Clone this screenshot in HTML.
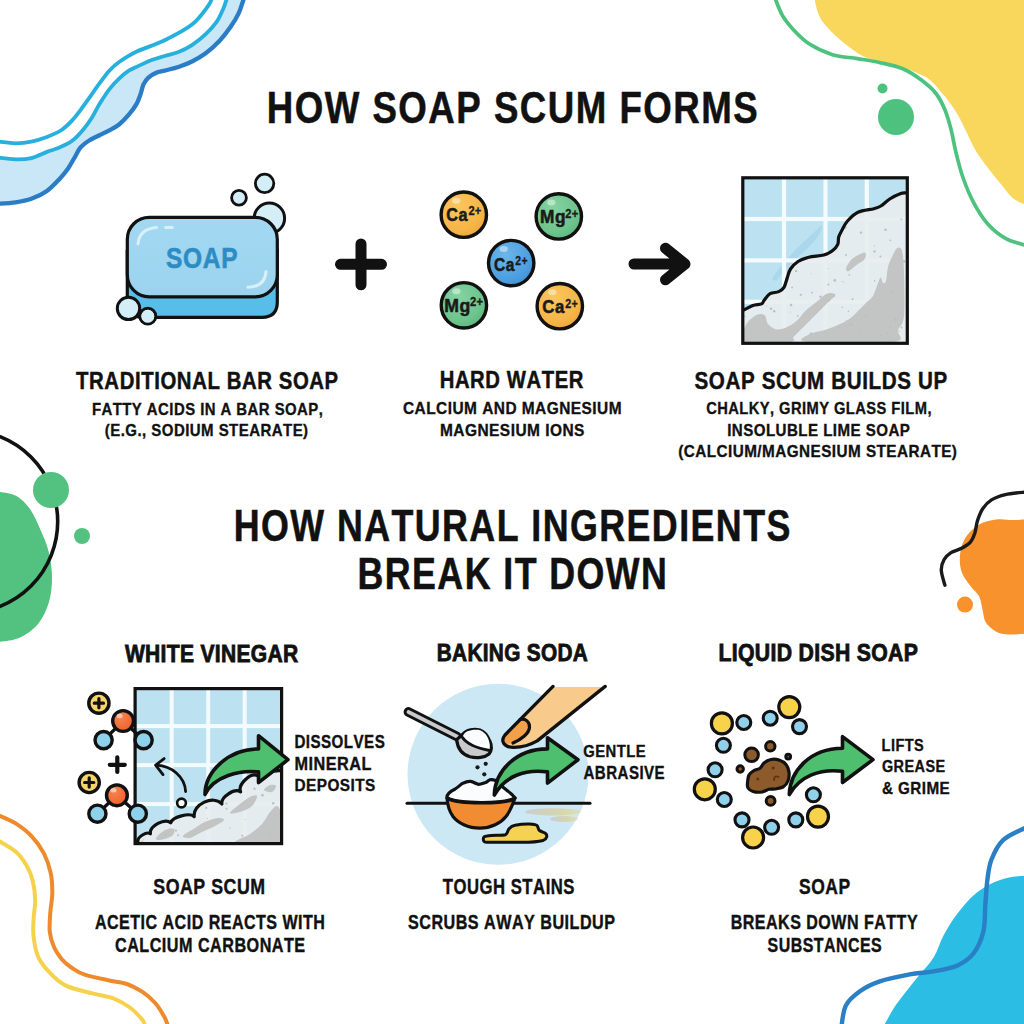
<!DOCTYPE html>
<html><head><meta charset="utf-8"><style>
html,body{margin:0;padding:0;background:#fff;width:1024px;height:1024px;overflow:hidden}
svg{display:block}
text{font-family:"Liberation Sans",sans-serif;font-weight:bold;font-kerning:none}
</style></head><body>
<svg width="1024" height="1024" viewBox="0 0 1024 1024">
<rect width="1024" height="1024" fill="#fff"/>
<path d="M-2.0,157.7 C0.9,158.0 10.1,159.2 15.6,159.3 C21.1,159.4 26.1,159.3 31.3,158.1 C36.5,156.9 42.1,153.7 46.9,151.9 C51.7,150.1 55.8,149.0 60.0,147.2 C64.2,145.3 68.4,143.7 72.2,140.8 C76.0,137.9 79.7,133.8 82.9,130.0 C86.1,126.2 88.7,122.5 91.5,118.2 C94.3,113.9 96.5,108.8 99.5,104.0 C102.5,99.2 106.0,93.5 109.3,89.3 C112.6,85.1 115.8,81.7 119.1,78.6 C122.3,75.5 125.6,72.8 128.8,70.7 C132.1,68.6 134.9,67.7 138.6,65.9 C142.3,64.2 146.7,61.9 151.0,60.2 C155.3,58.6 160.1,57.4 164.7,56.0 C169.3,54.6 173.8,53.8 178.4,52.0 C183.0,50.2 187.4,48.1 192.0,45.1 C196.6,42.1 201.6,38.1 205.7,34.2 C209.8,30.3 213.6,26.2 216.6,21.9 C219.6,17.6 221.8,12.2 223.5,8.2 C225.2,4.2 226.4,-0.3 227.0,-2.0 L244,-2 C243.1,0.6 240.8,8.8 238.5,13.7 C236.2,18.6 233.5,22.8 230.3,27.3 C227.1,31.9 223.5,36.7 219.4,41.0 C215.3,45.3 210.3,49.9 205.7,53.3 C201.1,56.7 196.6,59.2 192.0,61.5 C187.4,63.8 183.0,65.5 178.4,67.0 C173.8,68.5 168.4,69.6 164.7,70.6 C161.0,71.5 158.9,71.5 156.2,72.7 C153.5,73.9 150.5,75.6 148.4,77.6 C146.3,79.5 144.8,81.6 143.5,84.4 C142.2,87.2 141.7,91.0 140.5,94.2 C139.3,97.5 138.5,100.5 136.6,103.9 C134.7,107.3 131.7,111.3 128.8,114.7 C125.9,118.1 122.3,121.9 119.1,124.5 C115.8,127.1 112.6,128.5 109.3,130.3 C106.0,132.1 102.8,133.6 99.5,135.2 C96.2,136.8 92.9,138.1 89.8,140.1 C86.7,142.1 83.4,144.2 80.8,147.2 C78.2,150.2 76.4,154.4 74.3,158.0 C72.2,161.6 70.3,165.3 67.9,168.7 C65.5,172.1 63.5,174.7 60.0,178.4 C56.5,182.1 51.7,187.5 46.9,190.9 C42.1,194.3 36.5,196.9 31.3,198.8 C26.1,200.7 21.1,201.5 15.6,202.3 C10.1,203.1 0.9,203.6 -2.0,203.8 Z" fill="#c9e7f6"/>
<path d="M-2.0,141.6 C0.9,141.9 10.1,143.3 15.6,143.3 C21.1,143.3 26.1,142.8 31.3,141.7 C36.5,140.6 41.9,138.9 46.9,137.0 C51.9,135.1 57.3,132.8 61.5,130.0 C65.7,127.2 69.0,123.8 72.2,120.4 C75.4,117.0 77.9,113.6 80.8,109.7 C83.7,105.8 86.7,101.5 89.8,97.1 C92.9,92.7 96.2,87.8 99.5,83.4 C102.8,79.0 106.0,74.3 109.3,70.7 C112.6,67.1 114.4,65.2 119.1,62.0 C123.8,58.8 129.7,54.9 137.3,51.3 C144.9,47.7 155.6,44.8 164.7,40.3 C173.8,35.8 184.7,30.4 192.0,24.6 C199.3,18.8 205.1,9.9 208.4,5.5 C211.7,1.1 211.4,-0.8 212.0,-2.0" fill="none" stroke="#27b0de" stroke-width="3.8"/>
<path d="M-2.0,157.7 C0.9,158.0 10.1,159.2 15.6,159.3 C21.1,159.4 26.1,159.3 31.3,158.1 C36.5,156.9 42.1,153.7 46.9,151.9 C51.7,150.1 55.8,149.0 60.0,147.2 C64.2,145.3 68.4,143.7 72.2,140.8 C76.0,137.9 79.7,133.8 82.9,130.0 C86.1,126.2 88.7,122.5 91.5,118.2 C94.3,113.9 96.5,108.8 99.5,104.0 C102.5,99.2 106.0,93.5 109.3,89.3 C112.6,85.1 115.8,81.7 119.1,78.6 C122.3,75.5 125.6,72.8 128.8,70.7 C132.1,68.6 134.9,67.7 138.6,65.9 C142.3,64.2 146.7,61.9 151.0,60.2 C155.3,58.6 160.1,57.4 164.7,56.0 C169.3,54.6 173.8,53.8 178.4,52.0 C183.0,50.2 187.4,48.1 192.0,45.1 C196.6,42.1 201.6,38.1 205.7,34.2 C209.8,30.3 213.6,26.2 216.6,21.9 C219.6,17.6 221.8,12.2 223.5,8.2 C225.2,4.2 226.4,-0.3 227.0,-2.0" fill="none" stroke="#27b0de" stroke-width="3.8"/>
<path d="M-2.0,203.8 C0.9,203.6 10.1,203.1 15.6,202.3 C21.1,201.5 26.1,200.7 31.3,198.8 C36.5,196.9 42.1,194.3 46.9,190.9 C51.7,187.5 56.5,182.1 60.0,178.4 C63.5,174.7 65.5,172.1 67.9,168.7 C70.3,165.3 72.2,161.6 74.3,158.0 C76.4,154.4 78.2,150.2 80.8,147.2 C83.4,144.2 86.7,142.1 89.8,140.1 C92.9,138.1 96.2,136.8 99.5,135.2 C102.8,133.6 106.0,132.1 109.3,130.3 C112.6,128.5 115.8,127.1 119.1,124.5 C122.3,121.9 125.9,118.1 128.8,114.7 C131.7,111.3 134.7,107.3 136.6,103.9 C138.5,100.5 139.3,97.5 140.5,94.2 C141.7,91.0 142.2,87.2 143.5,84.4 C144.8,81.6 146.3,79.5 148.4,77.6 C150.5,75.6 153.5,73.9 156.2,72.7 C158.9,71.5 161.0,71.5 164.7,70.6 C168.4,69.6 173.8,68.5 178.4,67.0 C183.0,65.5 187.4,63.8 192.0,61.5 C196.6,59.2 201.1,56.7 205.7,53.3 C210.3,49.9 215.3,45.3 219.4,41.0 C223.5,36.7 227.1,31.9 230.3,27.3 C233.5,22.8 236.2,18.6 238.5,13.7 C240.8,8.8 243.1,0.6 244.0,-2.0" fill="none" stroke="#2a7cc6" stroke-width="4.3"/>
<path d="M814.5,-2.0 C814.9,-0.1 815.7,5.7 816.9,9.4 C818.1,13.1 819.0,16.4 821.6,20.3 C824.2,24.2 828.6,28.9 832.5,32.8 C836.4,36.7 840.8,40.4 845.0,43.8 C849.2,47.1 853.9,50.8 857.5,53.1 C861.1,55.4 863.2,56.4 866.9,57.8 C870.5,59.2 873.4,59.9 879.4,61.5 C885.4,63.1 896.4,65.5 902.8,67.5 C909.2,69.5 913.5,71.4 918.0,73.5 C922.5,75.6 925.3,76.0 929.9,80.0 C934.5,84.0 941.0,91.7 945.7,97.6 C950.4,103.5 954.5,109.3 958.0,115.2 C961.5,121.1 963.9,126.9 966.8,132.8 C969.7,138.7 972.1,144.5 975.6,150.4 C979.1,156.3 983.6,162.2 988.0,168.0 C992.4,173.8 997.9,180.5 1002.0,185.5 C1006.1,190.5 1008.6,194.7 1012.6,197.9 C1016.6,201.2 1023.8,203.8 1026.0,205.0 L1026,-2 Z" fill="#f9d75c"/>
<path d="M775.0,-2.0 C776.2,0.9 779.4,10.3 782.5,15.6 C785.6,20.9 789.0,25.0 793.4,29.7 C797.8,34.4 802.5,39.6 809.0,43.8 C815.5,47.9 824.4,52.2 832.5,54.7 C840.6,57.2 849.7,57.3 857.5,58.6 C865.3,59.9 871.9,60.8 879.4,62.5 C886.9,64.2 895.7,65.8 902.8,68.8 C909.9,71.8 916.5,76.4 922.0,80.5 C927.5,84.6 932.2,88.6 936.0,93.5 C939.8,98.4 942.5,104.0 945.0,110.0 C947.5,116.0 949.1,122.0 951.0,129.3 C952.9,136.6 954.2,145.7 956.3,153.9 C958.3,162.1 960.4,170.3 963.3,178.5 C966.2,186.7 969.8,195.5 973.9,203.1 C978.0,210.7 982.7,218.3 988.0,224.2 C993.3,230.1 999.2,234.8 1005.5,238.3 C1011.8,241.9 1022.6,244.3 1026.0,245.5" fill="none" stroke="#4cc27e" stroke-width="3.7"/>
<circle cx="882.5" cy="88.5" r="5" fill="#4cc27e"/>
<circle cx="896" cy="117" r="18" fill="#4cc27e"/>
<path d="M-2.0,491.6 C1.0,492.3 10.7,492.8 16.0,495.7 C21.3,498.6 25.8,503.1 30.0,509.0 C34.2,514.9 37.8,523.7 41.0,531.0 C44.2,538.3 47.2,545.2 49.0,553.0 C50.8,560.8 52.0,569.6 52.0,577.8 C52.0,586.0 51.3,594.3 49.0,602.0 C46.7,609.7 43.0,618.0 38.0,624.0 C33.0,630.0 25.7,635.0 19.0,638.0 C12.3,641.0 1.5,641.3 -2.0,642.0 Z" fill="#53c17f"/>
<circle cx="-33.5" cy="521.5" r="91.2" fill="none" stroke="#111" stroke-width="3.6"/>
<circle cx="51" cy="490" r="18" fill="#53c17f"/>
<circle cx="82" cy="536" r="8" fill="#53c17f"/>
<path d="M1026.0,519.3 C1023.8,519.4 1017.2,520.0 1012.6,520.0 C1008.0,520.0 1003.5,518.8 998.5,519.3 C993.5,519.8 987.4,520.8 982.7,522.8 C978.0,524.8 973.8,528.1 970.4,531.6 C967.0,535.1 964.2,539.2 962.4,543.9 C960.6,548.6 959.8,554.7 959.8,559.7 C959.8,564.7 960.6,569.4 962.4,573.8 C964.2,578.2 967.6,582.2 970.4,586.0 C973.2,589.8 977.2,592.5 979.2,596.6 C981.2,600.7 981.5,606.3 982.7,610.7 C983.9,615.1 983.6,619.3 986.2,623.0 C988.8,626.7 994.1,630.8 998.5,632.7 C1002.9,634.6 1008.0,634.4 1012.6,634.5 C1017.2,634.6 1023.8,633.8 1026.0,633.6 Z" fill="#f7922d"/>
<path d="M1026.0,492.0 C1022.6,492.4 1011.2,493.3 1005.5,494.6 C999.8,495.9 995.3,497.5 991.5,499.9 C987.7,502.2 985.1,505.2 982.7,508.7 C980.4,512.2 978.7,516.9 977.4,521.0 C976.1,525.1 976.0,529.8 974.8,533.3 C973.6,536.8 972.6,539.6 970.4,542.1 C968.2,544.6 964.8,546.5 961.6,548.3 C958.4,550.1 953.9,550.8 951.0,552.7 C948.1,554.6 945.6,556.8 944.0,559.7 C942.4,562.6 941.1,566.0 941.3,570.3 C941.4,574.5 944.3,582.7 944.9,585.2" fill="none" stroke="#1a1a1a" stroke-width="3.4" stroke-linecap="round"/>
<circle cx="965" cy="604.6" r="8" fill="#f7922d"/>
<path d="M-2.0,815.0 C0.9,816.4 10.1,819.9 15.6,823.4 C21.1,826.9 26.6,830.9 31.3,835.9 C36.0,840.9 40.5,846.9 43.8,853.1 C47.0,859.4 49.4,866.6 50.8,873.4 C52.2,880.2 52.4,887.2 52.3,893.8 C52.2,900.3 50.7,906.1 50.3,912.5 C49.9,918.9 49.2,926.2 49.8,932.0 C50.4,937.8 52.0,942.4 54.0,947.0 C56.0,951.6 59.0,956.0 62.0,959.5 C65.0,963.0 68.2,965.5 72.0,968.0 C75.8,970.5 78.7,972.7 84.7,974.7 C90.7,976.7 101.1,978.7 108.1,980.2 C115.1,981.8 121.2,982.0 126.9,984.0 C132.6,986.0 137.8,988.8 142.5,991.9 C147.2,995.0 151.3,998.6 155.0,1002.8 C158.7,1007.0 162.2,1013.0 164.4,1016.9 C166.6,1020.8 167.4,1024.5 168.0,1026.0" fill="none" stroke="#ef8a2c" stroke-width="4"/>
<path d="M-2.0,840.4 C0.9,842.3 10.8,847.4 15.6,851.6 C20.4,855.8 23.7,860.7 26.6,865.6 C29.5,870.5 31.4,875.5 32.8,881.2 C34.2,887.0 35.1,893.8 35.2,900.0 C35.3,906.2 33.9,912.8 33.6,918.8 C33.3,924.7 32.8,929.4 33.5,935.6 C34.2,941.8 35.3,949.9 37.8,955.9 C40.3,961.9 44.1,966.6 48.8,971.6 C53.4,976.6 58.6,982.0 65.9,985.6 C73.2,989.2 84.7,991.3 92.5,993.4 C100.3,995.5 106.5,995.8 112.8,998.1 C119.0,1000.5 125.0,1003.9 130.0,1007.5 C134.9,1011.1 140.0,1016.9 142.5,1020.0 C145.0,1023.1 144.6,1025.0 145.0,1026.0" fill="none" stroke="#f6d24c" stroke-width="4"/>
<path d="M883.8,1026.0 C885.8,1022.5 890.4,1013.1 895.7,1005.3 C901.0,997.5 909.4,987.4 915.7,979.4 C922.0,971.4 929.0,964.8 933.6,957.5 C938.2,950.2 939.5,942.8 943.5,935.5 C947.5,928.2 952.2,920.6 957.5,913.6 C962.8,906.6 969.1,899.0 975.4,893.7 C981.7,888.4 989.0,884.6 995.3,881.8 C1001.6,879.0 1008.2,877.8 1013.3,876.8 C1018.4,875.8 1023.9,876.0 1026.0,875.8 L1026,1026 Z" fill="#2bbde3"/>
<path d="M841.5,1026.0 C842.2,1022.5 842.9,1011.1 846.0,1005.3 C849.1,999.5 854.3,995.3 859.9,991.3 C865.5,987.3 871.5,984.2 879.8,981.4 C888.1,978.6 900.7,976.1 909.7,974.4 C918.7,972.7 925.6,972.9 933.6,971.4 C941.6,969.9 950.9,968.4 957.5,965.4 C964.1,962.4 969.1,959.1 973.4,953.5 C977.7,947.9 981.4,939.8 983.4,931.5 C985.4,923.2 984.7,912.3 985.4,903.7 C986.1,895.1 986.4,887.1 987.4,879.8 C988.4,872.5 988.8,866.4 991.4,859.8 C994.0,853.1 997.5,845.3 1003.3,839.9 C1009.1,834.5 1022.2,829.6 1026.0,827.5" fill="none" stroke="#2a7fc5" stroke-width="4.4"/>
<defs>
<radialGradient id="gOr" cx="0.38" cy="0.32" r="0.75"><stop offset="0" stop-color="#fbc65e"/><stop offset="0.7" stop-color="#f6b547"/><stop offset="1" stop-color="#eea43a"/></radialGradient>
<radialGradient id="gGr" cx="0.38" cy="0.32" r="0.75"><stop offset="0" stop-color="#86d3a2"/><stop offset="0.7" stop-color="#6dc48c"/><stop offset="1" stop-color="#5bb67c"/></radialGradient>
<radialGradient id="gBl" cx="0.38" cy="0.32" r="0.75"><stop offset="0" stop-color="#6cb6ea"/><stop offset="0.7" stop-color="#4d9fe0"/><stop offset="1" stop-color="#3f8fd4"/></radialGradient>
<radialGradient id="gRd" cx="0.38" cy="0.32" r="0.75"><stop offset="0" stop-color="#f8844f"/><stop offset="1" stop-color="#ec5f2c"/></radialGradient>
<linearGradient id="gSoapTop" x1="0" y1="0" x2="0" y2="1"><stop offset="0" stop-color="#a3d8f1"/><stop offset="1" stop-color="#9bd3ee"/></linearGradient>
<linearGradient id="gSmudge" x1="0" y1="0" x2="1" y2="0"><stop offset="0" stop-color="#c8c8c4"/><stop offset="0.6" stop-color="#d8cfa0"/><stop offset="1" stop-color="#f0d470" stop-opacity="0.6"/></linearGradient>
</defs>
<circle cx="269.4" cy="218.3" r="15.2" fill="#d4eef8" stroke="#111" stroke-width="3"/>
<path d="M127.3,250 L127.3,302 Q127.3,317.3 143,317.3 L262,317.3 Q277.3,317.3 277.3,302 L277.3,250 Z" fill="#58bde8" stroke="#111" stroke-width="3.2" stroke-linejoin="round"/>
<rect x="127.3" y="217.3" width="150" height="79.5" rx="22" fill="url(#gSoapTop)" stroke="#111" stroke-width="3.2"/>
<path d="M138,244 Q139,229 156.5,227.4" fill="none" stroke="#e2f4fb" stroke-width="3" stroke-linecap="round" opacity="0.85"/>
<path d="M165.6,227.4 L172.3,227.4" fill="none" stroke="#e2f4fb" stroke-width="3" stroke-linecap="round" opacity="0.85"/>
<path d="M247.8,287.2 Q265,287 266,271.4" fill="none" stroke="#e2f4fb" stroke-width="3" stroke-linecap="round" opacity="0.85"/>
<text transform="translate(166.04 268.10) scale(0.8211 1)" font-size="29.80" letter-spacing="0.89" fill="#2e8cc4" stroke="#2e8cc4" stroke-width="0.60">SOAP</text>
<circle cx="147.8" cy="316.2" r="7.9" fill="#d4eef8" stroke="#111" stroke-width="3"/>
<circle cx="128.5" cy="308.4" r="11.2" fill="#d4eef8" stroke="#111" stroke-width="3"/>
<circle cx="147.8" cy="316.2" r="6.4" fill="#d4eef8"/>
<circle cx="239" cy="197.7" r="7.4" fill="#d4eef8" stroke="#111" stroke-width="2.8"/>
<circle cx="264.6" cy="183.4" r="9.2" fill="#d4eef8" stroke="#111" stroke-width="2.8"/>
<path d="M340.5,264.3 H381.5 M361,244 V284.8" stroke="#111" stroke-width="11" stroke-linecap="round"/>
<circle cx="463.8" cy="214.7" r="22.7" fill="url(#gOr)" stroke="#111" stroke-width="3.4"/>
<ellipse cx="456.3" cy="200.7" rx="4.2" ry="3" fill="#fff" opacity="0.45"/>
<text transform="translate(446.28 221.42) scale(0.8737 1)" font-size="18.52" letter-spacing="0.56" fill="#1a1a1a" stroke="#1a1a1a" stroke-width="0.56">Ca</text>
<text transform="translate(468.38 215.32) scale(0.9203 1)" font-size="11.98" letter-spacing="0.36" fill="#1a1a1a" stroke="#1a1a1a" stroke-width="0.36">2+</text>
<circle cx="558.8" cy="216.4" r="22.7" fill="url(#gGr)" stroke="#111" stroke-width="3.4"/>
<ellipse cx="551.3" cy="202.4" rx="4.2" ry="3" fill="#fff" opacity="0.45"/>
<text transform="translate(540.10 223.02) scale(0.9338 1)" font-size="18.52" letter-spacing="0.56" fill="#1a1a1a" stroke="#1a1a1a" stroke-width="0.56">Mg</text>
<text transform="translate(565.28 217.60) scale(0.8487 1)" font-size="13.09" letter-spacing="0.39" fill="#1a1a1a" stroke="#1a1a1a" stroke-width="0.39">2+</text>
<circle cx="511.2" cy="263.1" r="22.7" fill="url(#gBl)" stroke="#111" stroke-width="3.4"/>
<ellipse cx="503.7" cy="249.10000000000002" rx="4.2" ry="3" fill="#fff" opacity="0.45"/>
<text transform="translate(493.99 270.72) scale(0.8406 1)" font-size="18.52" letter-spacing="0.56" fill="#1a1a1a" stroke="#1a1a1a" stroke-width="0.56">Ca</text>
<text transform="translate(515.30 264.52) scale(0.8583 1)" font-size="12.12" letter-spacing="0.36" fill="#1a1a1a" stroke="#1a1a1a" stroke-width="0.36">2+</text>
<circle cx="463.9" cy="305.3" r="22.7" fill="url(#gGr)" stroke="#111" stroke-width="3.4"/>
<ellipse cx="456.4" cy="291.3" rx="4.2" ry="3" fill="#fff" opacity="0.45"/>
<text transform="translate(444.28 312.21) scale(0.9223 1)" font-size="19.15" letter-spacing="0.57" fill="#1a1a1a" stroke="#1a1a1a" stroke-width="0.57">Mg</text>
<text transform="translate(469.98 306.05) scale(0.8533 1)" font-size="13.02" letter-spacing="0.39" fill="#1a1a1a" stroke="#1a1a1a" stroke-width="0.39">2+</text>
<circle cx="559.8" cy="306.2" r="22.7" fill="url(#gOr)" stroke="#111" stroke-width="3.4"/>
<ellipse cx="552.3" cy="292.2" rx="4.2" ry="3" fill="#fff" opacity="0.45"/>
<text transform="translate(542.36 313.02) scale(0.9069 1)" font-size="18.52" letter-spacing="0.56" fill="#1a1a1a" stroke="#1a1a1a" stroke-width="0.56">Ca</text>
<text transform="translate(565.29 307.60) scale(0.8148 1)" font-size="13.09" letter-spacing="0.39" fill="#1a1a1a" stroke="#1a1a1a" stroke-width="0.39">2+</text>
<path d="M634,264 H684 M665.5,248.3 L685,264 L665.5,279.7" fill="none" stroke="#111" stroke-width="11" stroke-linecap="round" stroke-linejoin="round"/>
<clipPath id="clip1"><rect x="742.8" y="177.8" width="164.5" height="165.5"/></clipPath>
<clipPath id="clip1s"><path d="M740.0,311.0 C740.7,310.8 742.1,310.7 744.3,309.8 C746.4,308.9 750.0,306.5 752.9,305.5 C755.8,304.5 759.6,304.8 761.5,303.9 C763.4,303.0 762.8,301.9 764.2,300.2 C765.6,298.5 767.7,295.1 770.1,293.7 C772.5,292.3 776.4,292.7 778.7,291.6 C781.0,290.5 782.6,289.6 784.0,287.3 C785.4,285.0 786.2,280.7 787.3,277.6 C788.4,274.6 788.7,271.7 790.5,269.0 C792.3,266.3 795.0,263.5 798.0,261.5 C801.0,259.5 804.5,258.3 808.8,257.2 C813.1,256.1 819.9,256.1 823.8,255.0 C827.7,253.9 830.1,252.5 832.4,250.7 C834.7,248.9 836.8,246.6 837.8,244.3 C838.8,242.0 838.0,239.4 838.7,237.0 C839.4,234.6 840.7,232.5 842.2,229.8 C843.7,227.1 844.9,223.9 847.5,221.0 C850.1,218.1 853.6,214.2 858.0,212.2 C862.4,210.1 870.1,209.7 873.9,208.7 C877.7,207.7 878.3,207.6 880.9,206.0 C883.5,204.4 886.5,201.1 889.7,199.0 C892.9,196.9 897.4,194.7 900.2,193.7 C903.0,192.7 904.4,193.1 906.4,192.9 C908.4,192.7 911.1,192.6 912.0,192.5 L912.3,348.3 L737.8,348.3 Z"/></clipPath>
<rect x="742.8" y="177.8" width="164.5" height="165.5" fill="#bce1f0"/>
<g clip-path="url(#clip1)">
<path d="M772,279 C782,262 800,245 822,225 C822,232 816,240 808,248 C796,258 786,268 776,281 Z" fill="#a6d5ec" opacity="0.8"/>
<rect x="781.9" y="177.8" width="4.2" height="165.5" fill="#f3fbfe"/>
<rect x="823.4" y="177.8" width="4.2" height="165.5" fill="#f3fbfe"/>
<rect x="864.7" y="177.8" width="4.2" height="165.5" fill="#f3fbfe"/>
<rect x="742.8" y="216.9" width="164.5" height="4.2" fill="#f3fbfe"/>
<rect x="742.8" y="258.3" width="164.5" height="4.2" fill="#f3fbfe"/>
<rect x="742.8" y="299.7" width="164.5" height="4.2" fill="#f3fbfe"/>
<path d="M740.0,311.0 C740.7,310.8 742.1,310.7 744.3,309.8 C746.4,308.9 750.0,306.5 752.9,305.5 C755.8,304.5 759.6,304.8 761.5,303.9 C763.4,303.0 762.8,301.9 764.2,300.2 C765.6,298.5 767.7,295.1 770.1,293.7 C772.5,292.3 776.4,292.7 778.7,291.6 C781.0,290.5 782.6,289.6 784.0,287.3 C785.4,285.0 786.2,280.7 787.3,277.6 C788.4,274.6 788.7,271.7 790.5,269.0 C792.3,266.3 795.0,263.5 798.0,261.5 C801.0,259.5 804.5,258.3 808.8,257.2 C813.1,256.1 819.9,256.1 823.8,255.0 C827.7,253.9 830.1,252.5 832.4,250.7 C834.7,248.9 836.8,246.6 837.8,244.3 C838.8,242.0 838.0,239.4 838.7,237.0 C839.4,234.6 840.7,232.5 842.2,229.8 C843.7,227.1 844.9,223.9 847.5,221.0 C850.1,218.1 853.6,214.2 858.0,212.2 C862.4,210.1 870.1,209.7 873.9,208.7 C877.7,207.7 878.3,207.6 880.9,206.0 C883.5,204.4 886.5,201.1 889.7,199.0 C892.9,196.9 897.4,194.7 900.2,193.7 C903.0,192.7 904.4,193.1 906.4,192.9 C908.4,192.7 911.1,192.6 912.0,192.5 L912.3,348.3 L737.8,348.3 Z" fill="#e8edef" opacity="0.92"/>
<g clip-path="url(#clip1s)">
<path d="M897.2,248.0 C898.8,247.1 900.9,246.7 902.0,250.7 C903.1,254.7 903.7,261.1 904.0,272.0 C904.3,282.9 905.0,306.3 904.0,316.0 C903.0,325.7 899.8,325.7 898.0,330.0 C896.2,334.3 908.0,340.0 893.0,342.0 C878.0,344.0 822.1,343.2 808.0,342.0 C793.9,340.8 805.5,336.6 808.6,334.5 C811.8,332.4 821.2,331.2 826.9,329.2 C832.6,327.2 838.9,324.7 843.0,322.7 C847.1,320.7 848.7,319.6 851.6,317.3 C854.5,315.0 857.7,311.3 860.2,308.8 C862.7,306.3 864.5,304.5 866.6,302.3 C868.7,300.1 871.2,298.8 873.0,295.9 C874.8,293.0 876.0,288.2 877.3,285.1 C878.6,282.1 879.6,278.0 880.6,277.6 C881.6,277.2 882.1,282.5 883.0,283.0 C883.9,283.5 885.2,283.5 886.0,280.8 C886.8,278.1 886.9,271.0 888.0,266.9 C889.1,262.8 890.9,259.2 892.4,256.1 C893.9,253.0 895.6,248.9 897.2,248.0 Z" fill="#c3c4c4"/>
<path d="M745.4,325.9 C747.2,321.4 752.9,317.0 756.1,315.2 C759.3,313.4 762.7,313.8 764.7,315.2 C766.7,316.6 766.1,321.5 767.9,323.8 C769.7,326.1 772.5,328.5 775.4,329.2 C778.3,329.9 781.7,329.4 785.1,328.1 C788.5,326.8 792.5,324.5 795.9,321.6 C799.3,318.7 802.0,314.1 805.4,310.9 C808.8,307.7 812.5,305.2 816.1,302.3 C819.7,299.4 823.7,294.9 826.9,293.7 C830.1,292.4 835.2,293.4 835.4,294.8 C835.6,296.2 831.5,298.9 828.1,302.3 C824.7,305.7 819.1,311.3 815.2,315.2 C811.3,319.1 808.1,322.3 804.5,325.9 C800.9,329.5 796.0,334.0 793.7,336.7 C791.4,339.4 798.6,341.1 790.5,342.0 C782.4,342.9 752.5,344.7 745.0,342.0 C737.5,339.3 743.5,330.4 745.4,325.9 Z" fill="#c3c4c4"/>
<path d="M865.5,252.9 C866.2,253.8 865.9,257.3 864.5,259.3 C863.1,261.3 859.6,262.7 856.9,264.7 C854.2,266.7 850.1,270.7 848.3,271.2 C846.5,271.7 845.7,269.9 846.2,267.9 C846.8,265.9 849.3,261.6 851.6,259.3 C853.9,257.0 857.9,255.1 860.2,254.0 C862.5,252.9 864.8,252.0 865.5,252.9 Z" fill="#c3c4c4"/>
<circle cx="781.9" cy="267.9" r="0.8" fill="#bdbebf"/>
<circle cx="842.1" cy="281.4" r="0.6" fill="#bdbebf"/>
<circle cx="745.0" cy="316.4" r="0.7" fill="#bdbebf"/>
<circle cx="781.3" cy="342.6" r="0.9" fill="#bdbebf"/>
<circle cx="880.4" cy="256.6" r="1.0" fill="#bdbebf"/>
<circle cx="767.6" cy="282.9" r="1.2" fill="#bdbebf"/>
<circle cx="828.9" cy="300.5" r="1.0" fill="#bdbebf"/>
<circle cx="753.3" cy="303.3" r="1.0" fill="#bdbebf"/>
<circle cx="792.4" cy="182.9" r="1.2" fill="#bdbebf"/>
<circle cx="820.6" cy="296.8" r="1.2" fill="#bdbebf"/>
<circle cx="860.3" cy="330.2" r="0.8" fill="#bdbebf"/>
<circle cx="874.5" cy="251.4" r="1.2" fill="#bdbebf"/>
<circle cx="887.4" cy="193.9" r="0.6" fill="#bdbebf"/>
<circle cx="778.5" cy="337.6" r="0.8" fill="#bdbebf"/>
<circle cx="845.9" cy="227.6" r="0.9" fill="#bdbebf"/>
<circle cx="806.3" cy="235.9" r="1.0" fill="#bdbebf"/>
<circle cx="838.9" cy="327.4" r="1.0" fill="#bdbebf"/>
<circle cx="895.6" cy="319.5" r="1.3" fill="#bdbebf"/>
<circle cx="853.2" cy="204.8" r="1.2" fill="#bdbebf"/>
<circle cx="901.5" cy="327.5" r="1.0" fill="#bdbebf"/>
<circle cx="860.2" cy="212.7" r="1.2" fill="#bdbebf"/>
<circle cx="837.1" cy="225.0" r="0.6" fill="#bdbebf"/>
<circle cx="883.3" cy="341.6" r="0.6" fill="#bdbebf"/>
<circle cx="874.5" cy="245.7" r="0.6" fill="#bdbebf"/>
<circle cx="791.1" cy="305.0" r="1.2" fill="#bdbebf"/>
<circle cx="750.1" cy="279.5" r="0.5" fill="#bdbebf"/>
<circle cx="861.0" cy="232.6" r="1.2" fill="#bdbebf"/>
<circle cx="904.1" cy="261.4" r="1.3" fill="#bdbebf"/>
<circle cx="793.7" cy="190.5" r="1.0" fill="#bdbebf"/>
<circle cx="748.0" cy="210.5" r="0.8" fill="#bdbebf"/>
<circle cx="843.2" cy="203.7" r="0.5" fill="#bdbebf"/>
<circle cx="885.5" cy="229.7" r="1.3" fill="#bdbebf"/>
<circle cx="890.3" cy="240.3" r="0.9" fill="#bdbebf"/>
<circle cx="828.4" cy="284.4" r="1.0" fill="#bdbebf"/>
<circle cx="834.8" cy="280.4" r="1.3" fill="#bdbebf"/>
<circle cx="826.2" cy="249.2" r="1.1" fill="#bdbebf"/>
<circle cx="781.9" cy="227.6" r="1.3" fill="#bdbebf"/>
<circle cx="828.5" cy="268.6" r="0.5" fill="#bdbebf"/>
<circle cx="811.1" cy="273.8" r="0.5" fill="#bdbebf"/>
<circle cx="844.1" cy="282.4" r="0.5" fill="#bdbebf"/>
<circle cx="846.0" cy="255.0" r="1.0" fill="#bdbebf"/>
<circle cx="800.8" cy="294.8" r="1.1" fill="#bdbebf"/>
<circle cx="746.4" cy="187.8" r="1.0" fill="#bdbebf"/>
<circle cx="901.3" cy="219.4" r="0.9" fill="#bdbebf"/>
<circle cx="840.3" cy="230.8" r="0.8" fill="#bdbebf"/>
<circle cx="794.2" cy="238.9" r="1.0" fill="#bdbebf"/>
<circle cx="792.2" cy="240.2" r="1.1" fill="#bdbebf"/>
<circle cx="747.2" cy="272.0" r="1.1" fill="#bdbebf"/>
<circle cx="793.8" cy="214.6" r="1.1" fill="#bdbebf"/>
<circle cx="782.1" cy="208.8" r="0.8" fill="#bdbebf"/>
<circle cx="857.6" cy="194.7" r="0.8" fill="#bdbebf"/>
<circle cx="797.7" cy="315.8" r="0.9" fill="#bdbebf"/>
<circle cx="883.5" cy="205.8" r="0.8" fill="#bdbebf"/>
<circle cx="849.8" cy="324.3" r="0.9" fill="#bdbebf"/>
<circle cx="779.8" cy="197.8" r="0.9" fill="#bdbebf"/>
<circle cx="774.2" cy="311.3" r="1.2" fill="#bdbebf"/>
<circle cx="773.0" cy="223.9" r="1.1" fill="#bdbebf"/>
<circle cx="848.4" cy="311.2" r="0.8" fill="#bdbebf"/>
<circle cx="764.1" cy="226.1" r="1.1" fill="#bdbebf"/>
<circle cx="787.4" cy="235.1" r="0.8" fill="#bdbebf"/>
<circle cx="811.9" cy="245.6" r="1.2" fill="#bdbebf"/>
<circle cx="768.5" cy="178.6" r="1.3" fill="#bdbebf"/>
<circle cx="887.6" cy="341.1" r="0.8" fill="#bdbebf"/>
<circle cx="899.1" cy="331.3" r="0.7" fill="#bdbebf"/>
<circle cx="865.4" cy="316.3" r="1.0" fill="#bdbebf"/>
<circle cx="828.2" cy="225.6" r="0.8" fill="#bdbebf"/>
<circle cx="780.2" cy="189.1" r="1.0" fill="#bdbebf"/>
<circle cx="790.0" cy="311.9" r="0.5" fill="#bdbebf"/>
<circle cx="891.4" cy="292.6" r="1.2" fill="#bdbebf"/>
<circle cx="890.3" cy="326.7" r="1.0" fill="#bdbebf"/>
<circle cx="745.0" cy="301.1" r="0.6" fill="#bdbebf"/>
<circle cx="792.1" cy="287.5" r="0.9" fill="#bdbebf"/>
<circle cx="810.9" cy="333.2" r="1.0" fill="#bdbebf"/>
<circle cx="799.0" cy="219.6" r="1.2" fill="#bdbebf"/>
<circle cx="821.3" cy="307.3" r="0.8" fill="#bdbebf"/>
<circle cx="775.3" cy="266.3" r="1.2" fill="#bdbebf"/>
<circle cx="771.0" cy="308.8" r="1.2" fill="#bdbebf"/>
<circle cx="875.4" cy="314.1" r="0.5" fill="#bdbebf"/>
<circle cx="846.2" cy="320.6" r="0.5" fill="#bdbebf"/>
<circle cx="787.4" cy="222.3" r="0.9" fill="#bdbebf"/>
<circle cx="812.4" cy="256.1" r="1.1" fill="#bdbebf"/>
<circle cx="743.1" cy="186.9" r="0.6" fill="#bdbebf"/>
<circle cx="763.3" cy="189.1" r="1.3" fill="#bdbebf"/>
<circle cx="883.4" cy="192.1" r="0.9" fill="#bdbebf"/>
<circle cx="794.8" cy="229.9" r="0.8" fill="#bdbebf"/>
<circle cx="849.2" cy="274.9" r="0.8" fill="#bdbebf"/>
<circle cx="774.2" cy="232.2" r="0.6" fill="#bdbebf"/>
<circle cx="834.2" cy="296.3" r="0.8" fill="#bdbebf"/>
<circle cx="755.9" cy="207.4" r="0.8" fill="#bdbebf"/>
<circle cx="842.2" cy="307.3" r="0.8" fill="#bdbebf"/>
<circle cx="874.6" cy="280.9" r="0.8" fill="#bdbebf"/>
<circle cx="804.1" cy="259.9" r="1.1" fill="#bdbebf"/>
<circle cx="812.0" cy="292.7" r="0.9" fill="#bdbebf"/>
<circle cx="783.1" cy="266.5" r="1.1" fill="#bdbebf"/>
<circle cx="754.6" cy="248.1" r="0.8" fill="#bdbebf"/>
<circle cx="887.5" cy="332.8" r="0.8" fill="#bdbebf"/>
<circle cx="890.5" cy="308.7" r="0.7" fill="#bdbebf"/>
<circle cx="819.2" cy="198.2" r="1.2" fill="#bdbebf"/>
<circle cx="851.7" cy="324.7" r="1.1" fill="#bdbebf"/>
<circle cx="852.6" cy="299.2" r="1.0" fill="#bdbebf"/>
<circle cx="759.8" cy="275.1" r="0.5" fill="#bdbebf"/>
<circle cx="766.4" cy="305.9" r="0.5" fill="#bdbebf"/>
<circle cx="757.9" cy="194.2" r="1.2" fill="#bdbebf"/>
<circle cx="772.3" cy="181.7" r="1.2" fill="#bdbebf"/>
<circle cx="762.8" cy="317.5" r="1.0" fill="#bdbebf"/>
<circle cx="880.4" cy="335.4" r="1.0" fill="#bdbebf"/>
<circle cx="874.2" cy="183.8" r="1.1" fill="#bdbebf"/>
<circle cx="826.9" cy="296.2" r="0.6" fill="#bdbebf"/>
<circle cx="866.0" cy="332.5" r="0.5" fill="#bdbebf"/>
<circle cx="796.1" cy="271.1" r="1.2" fill="#bdbebf"/>
</g>
<path d="M740.0,311.0 C740.7,310.8 742.1,310.7 744.3,309.8 C746.4,308.9 750.0,306.5 752.9,305.5 C755.8,304.5 759.6,304.8 761.5,303.9 C763.4,303.0 762.8,301.9 764.2,300.2 C765.6,298.5 767.7,295.1 770.1,293.7 C772.5,292.3 776.4,292.7 778.7,291.6 C781.0,290.5 782.6,289.6 784.0,287.3 C785.4,285.0 786.2,280.7 787.3,277.6 C788.4,274.6 788.7,271.7 790.5,269.0 C792.3,266.3 795.0,263.5 798.0,261.5 C801.0,259.5 804.5,258.3 808.8,257.2 C813.1,256.1 819.9,256.1 823.8,255.0 C827.7,253.9 830.1,252.5 832.4,250.7 C834.7,248.9 836.8,246.6 837.8,244.3 C838.8,242.0 838.0,239.4 838.7,237.0 C839.4,234.6 840.7,232.5 842.2,229.8 C843.7,227.1 844.9,223.9 847.5,221.0 C850.1,218.1 853.6,214.2 858.0,212.2 C862.4,210.1 870.1,209.7 873.9,208.7 C877.7,207.7 878.3,207.6 880.9,206.0 C883.5,204.4 886.5,201.1 889.7,199.0 C892.9,196.9 897.4,194.7 900.2,193.7 C903.0,192.7 904.4,193.1 906.4,192.9 C908.4,192.7 911.1,192.6 912.0,192.5" fill="none" stroke="#111" stroke-width="3.2" stroke-linejoin="round"/>
</g>
<rect x="742.8" y="177.8" width="164.5" height="165.5" fill="none" stroke="#111" stroke-width="3.2"/>
<clipPath id="clip2"><rect x="135.1" y="688.6" width="146.50000000000003" height="155.0"/></clipPath>
<clipPath id="clip2s"><path d="M133.0,842.5 C133.5,842.0 137.2,841.3 137.9,841.6 C137.1,837.1 146.6,831.1 150.4,833.8 C149.4,826.0 164.8,817.7 170.7,822.8 C172.2,816.9 190.0,812.2 194.2,816.6 C192.6,804.2 213.6,794.6 221.9,804.0 C220.5,797.0 234.7,787.8 240.6,791.9 C237.5,784.7 250.4,772.2 257.5,775.5 C260.3,772.4 280.4,769.3 284.0,771.5 L286.6,848.6 L130.1,848.6 Z"/></clipPath>
<rect x="135.1" y="688.6" width="146.50000000000003" height="155.0" fill="#bce1f0"/>
<g clip-path="url(#clip2)">
<rect x="169.7" y="688.6" width="4.0" height="155.0" fill="#f3fbfe"/>
<rect x="206.2" y="688.6" width="4.0" height="155.0" fill="#f3fbfe"/>
<rect x="242.7" y="688.6" width="4.0" height="155.0" fill="#f3fbfe"/>
<rect x="135.1" y="724.1" width="146.50000000000003" height="4.0" fill="#f3fbfe"/>
<rect x="135.1" y="763.1" width="146.50000000000003" height="4.0" fill="#f3fbfe"/>
<rect x="135.1" y="802.1" width="146.50000000000003" height="4.0" fill="#f3fbfe"/>
<path d="M133.0,842.5 C133.5,842.0 137.2,841.3 137.9,841.6 C137.1,837.1 146.6,831.1 150.4,833.8 C149.4,826.0 164.8,817.7 170.7,822.8 C172.2,816.9 190.0,812.2 194.2,816.6 C192.6,804.2 213.6,794.6 221.9,804.0 C220.5,797.0 234.7,787.8 240.6,791.9 C237.5,784.7 250.4,772.2 257.5,775.5 C260.3,772.4 280.4,769.3 284.0,771.5 L286.6,848.6 L130.1,848.6 Z" fill="#e8edef" opacity="0.92"/>
<g clip-path="url(#clip2s)">
<path d="M183.0,836.0 C183.8,834.3 191.3,830.3 195.0,828.0 C198.7,825.7 201.2,823.7 205.0,822.0 C208.8,820.3 214.8,818.3 218.0,818.0 C221.2,817.7 224.5,818.7 224.0,820.0 C223.5,821.3 219.0,823.8 215.0,826.0 C211.0,828.2 204.2,831.0 200.0,833.0 C195.8,835.0 192.8,837.5 190.0,838.0 C187.2,838.5 182.2,837.7 183.0,836.0 Z" fill="#c3c4c4"/>
<path d="M230.0,813.0 C230.0,811.7 236.7,806.7 240.0,804.0 C243.3,801.3 247.2,798.3 250.0,797.0 C252.8,795.7 256.7,794.5 257.0,796.0 C257.3,797.5 254.8,803.3 252.0,806.0 C249.2,808.7 243.7,810.8 240.0,812.0 C236.3,813.2 230.0,814.3 230.0,813.0 Z" fill="#c3c4c4"/>
<path d="M236.0,843.0 C230.8,841.3 245.7,837.2 250.0,834.0 C254.3,830.8 258.7,827.7 262.0,824.0 C265.3,820.3 267.5,815.0 270.0,812.0 C272.5,809.0 275.2,805.5 277.0,806.0 C278.8,806.5 280.3,808.7 281.0,815.0 C281.7,821.3 288.5,839.3 281.0,844.0 C273.5,848.7 241.2,844.7 236.0,843.0 Z" fill="#c3c4c4"/>
<path d="M156.0,838.0 C156.8,836.3 162.0,831.5 165.0,830.0 C168.0,828.5 172.8,828.0 174.0,829.0 C175.2,830.0 174.3,834.2 172.0,836.0 C169.7,837.8 162.7,839.7 160.0,840.0 C157.3,840.3 155.2,839.7 156.0,838.0 Z" fill="#c3c4c4"/>
<path d="M264.0,790.0 C263.7,788.8 268.0,785.7 270.0,785.0 C272.0,784.3 275.7,784.8 276.0,786.0 C276.3,787.2 274.0,791.3 272.0,792.0 C270.0,792.7 264.3,791.2 264.0,790.0 Z" fill="#c3c4c4"/>
<circle cx="226.4" cy="803.6" r="1.1" fill="#bdbebf"/>
<circle cx="273.2" cy="803.3" r="1.2" fill="#bdbebf"/>
<circle cx="139.3" cy="760.8" r="1.3" fill="#bdbebf"/>
<circle cx="230.2" cy="828.2" r="0.6" fill="#bdbebf"/>
<circle cx="203.8" cy="726.8" r="0.9" fill="#bdbebf"/>
<circle cx="219.2" cy="690.6" r="0.7" fill="#bdbebf"/>
<circle cx="176.0" cy="830.6" r="1.1" fill="#bdbebf"/>
<circle cx="158.5" cy="812.2" r="0.6" fill="#bdbebf"/>
<circle cx="225.6" cy="708.2" r="0.5" fill="#bdbebf"/>
<circle cx="262.8" cy="721.1" r="0.7" fill="#bdbebf"/>
<circle cx="279.0" cy="823.8" r="0.7" fill="#bdbebf"/>
<circle cx="276.0" cy="772.2" r="1.0" fill="#bdbebf"/>
<circle cx="165.1" cy="834.5" r="1.1" fill="#bdbebf"/>
<circle cx="276.7" cy="827.1" r="0.7" fill="#bdbebf"/>
<circle cx="188.0" cy="714.3" r="0.6" fill="#bdbebf"/>
<circle cx="144.6" cy="735.3" r="1.0" fill="#bdbebf"/>
<circle cx="135.6" cy="793.7" r="0.8" fill="#bdbebf"/>
<circle cx="180.5" cy="815.5" r="0.9" fill="#bdbebf"/>
<circle cx="181.4" cy="763.2" r="1.1" fill="#bdbebf"/>
<circle cx="143.5" cy="839.7" r="0.5" fill="#bdbebf"/>
<circle cx="244.9" cy="819.6" r="0.5" fill="#bdbebf"/>
<circle cx="250.5" cy="745.4" r="1.0" fill="#bdbebf"/>
<circle cx="136.4" cy="695.8" r="0.6" fill="#bdbebf"/>
<circle cx="275.0" cy="719.1" r="1.1" fill="#bdbebf"/>
<circle cx="271.3" cy="834.6" r="0.8" fill="#bdbebf"/>
<circle cx="187.1" cy="769.9" r="1.1" fill="#bdbebf"/>
<circle cx="150.9" cy="804.6" r="1.1" fill="#bdbebf"/>
<circle cx="261.0" cy="694.3" r="1.3" fill="#bdbebf"/>
<circle cx="148.5" cy="741.4" r="1.0" fill="#bdbebf"/>
<circle cx="269.6" cy="741.3" r="1.2" fill="#bdbebf"/>
<circle cx="215.0" cy="737.0" r="0.8" fill="#bdbebf"/>
<circle cx="161.1" cy="700.7" r="0.6" fill="#bdbebf"/>
<circle cx="236.1" cy="843.1" r="0.6" fill="#bdbebf"/>
<circle cx="142.2" cy="841.5" r="0.9" fill="#bdbebf"/>
<circle cx="194.6" cy="725.4" r="1.0" fill="#bdbebf"/>
<circle cx="256.2" cy="759.2" r="0.8" fill="#bdbebf"/>
<circle cx="143.3" cy="830.6" r="0.5" fill="#bdbebf"/>
<circle cx="207.4" cy="818.6" r="0.6" fill="#bdbebf"/>
<circle cx="242.3" cy="835.8" r="1.0" fill="#bdbebf"/>
<circle cx="250.5" cy="705.1" r="0.8" fill="#bdbebf"/>
<circle cx="157.0" cy="819.5" r="0.7" fill="#bdbebf"/>
<circle cx="201.5" cy="843.5" r="1.2" fill="#bdbebf"/>
<circle cx="278.1" cy="758.9" r="0.9" fill="#bdbebf"/>
<circle cx="242.0" cy="762.9" r="0.7" fill="#bdbebf"/>
<circle cx="194.3" cy="711.3" r="0.8" fill="#bdbebf"/>
<circle cx="279.9" cy="837.4" r="1.0" fill="#bdbebf"/>
<circle cx="208.3" cy="741.1" r="0.6" fill="#bdbebf"/>
<circle cx="175.0" cy="809.8" r="1.2" fill="#bdbebf"/>
<circle cx="188.0" cy="810.4" r="1.1" fill="#bdbebf"/>
<circle cx="236.9" cy="791.5" r="1.1" fill="#bdbebf"/>
<circle cx="188.3" cy="797.8" r="0.7" fill="#bdbebf"/>
<circle cx="206.3" cy="807.9" r="1.1" fill="#bdbebf"/>
<circle cx="178.1" cy="835.2" r="1.0" fill="#bdbebf"/>
<circle cx="220.2" cy="690.4" r="0.9" fill="#bdbebf"/>
<circle cx="171.8" cy="792.7" r="0.9" fill="#bdbebf"/>
<circle cx="254.7" cy="789.0" r="1.1" fill="#bdbebf"/>
<circle cx="186.1" cy="788.4" r="1.1" fill="#bdbebf"/>
<circle cx="256.4" cy="742.9" r="1.2" fill="#bdbebf"/>
<circle cx="262.5" cy="795.3" r="1.3" fill="#bdbebf"/>
<circle cx="275.2" cy="768.9" r="0.9" fill="#bdbebf"/>
<circle cx="159.4" cy="818.3" r="1.2" fill="#bdbebf"/>
<circle cx="205.0" cy="795.8" r="1.1" fill="#bdbebf"/>
<circle cx="242.1" cy="715.2" r="1.1" fill="#bdbebf"/>
<circle cx="220.2" cy="791.8" r="0.8" fill="#bdbebf"/>
<circle cx="226.5" cy="808.7" r="1.0" fill="#bdbebf"/>
<circle cx="240.6" cy="692.9" r="0.6" fill="#bdbebf"/>
<circle cx="199.7" cy="789.4" r="0.7" fill="#bdbebf"/>
<circle cx="235.6" cy="786.4" r="0.5" fill="#bdbebf"/>
<circle cx="204.2" cy="723.7" r="0.5" fill="#bdbebf"/>
<circle cx="154.7" cy="737.8" r="0.6" fill="#bdbebf"/>
<circle cx="163.4" cy="694.1" r="0.9" fill="#bdbebf"/>
<circle cx="190.8" cy="783.4" r="1.0" fill="#bdbebf"/>
<circle cx="169.9" cy="828.6" r="0.5" fill="#bdbebf"/>
<circle cx="194.5" cy="731.8" r="0.8" fill="#bdbebf"/>
<circle cx="152.0" cy="817.5" r="0.8" fill="#bdbebf"/>
<circle cx="140.4" cy="783.7" r="0.6" fill="#bdbebf"/>
<circle cx="215.0" cy="741.2" r="1.0" fill="#bdbebf"/>
<circle cx="275.5" cy="815.5" r="0.8" fill="#bdbebf"/>
<circle cx="254.2" cy="788.2" r="0.8" fill="#bdbebf"/>
<circle cx="155.9" cy="781.0" r="1.0" fill="#bdbebf"/>
</g>
<path d="M133.0,842.5 C133.5,842.0 137.2,841.3 137.9,841.6 C137.1,837.1 146.6,831.1 150.4,833.8 C149.4,826.0 164.8,817.7 170.7,822.8 C172.2,816.9 190.0,812.2 194.2,816.6 C192.6,804.2 213.6,794.6 221.9,804.0 C220.5,797.0 234.7,787.8 240.6,791.9 C237.5,784.7 250.4,772.2 257.5,775.5 C260.3,772.4 280.4,769.3 284.0,771.5" fill="none" stroke="#111" stroke-width="3.2" stroke-linejoin="round"/>
</g>
<rect x="135.1" y="688.6" width="146.50000000000003" height="155.0" fill="none" stroke="#111" stroke-width="3.2"/>
<circle cx="98.9" cy="703.2" r="10.1" fill="#f6d469" stroke="#111" stroke-width="3.4"/>
<path d="M94.30000000000001,703.2 H103.5 M98.9,698.6 V707.8000000000001" stroke="#111" stroke-width="3.2" stroke-linecap="round"/>
<path d="M103.6,740.1 L123.1,721 L143.6,740.1" stroke="#111" stroke-width="3.4" fill="none"/>
<circle cx="103.6" cy="740.1" r="8.6" fill="#8fd0eb" stroke="#111" stroke-width="3.4"/>
<circle cx="143.6" cy="740.1" r="8.6" fill="#8fd0eb" stroke="#111" stroke-width="3.4"/>
<circle cx="123.1" cy="721" r="10.4" fill="url(#gRd)" stroke="#111" stroke-width="3.4"/>
<ellipse cx="119.6" cy="716" rx="3" ry="2.2" fill="#fff" opacity="0.55"/>
<path d="M109.8,764.8 H124.8 M117.3,757.3 V772" stroke="#111" stroke-width="4.2" stroke-linecap="round"/>
<circle cx="89.2" cy="782.5" r="10.1" fill="#f6d469" stroke="#111" stroke-width="3.4"/>
<path d="M84.60000000000001,782.5 H93.8 M89.2,777.9 V787.1" stroke="#111" stroke-width="3.2" stroke-linecap="round"/>
<path d="M97.4,813.7 L116.9,795.3 L137.8,813.7" stroke="#111" stroke-width="3.4" fill="none"/>
<circle cx="97.4" cy="813.7" r="8.6" fill="#8fd0eb" stroke="#111" stroke-width="3.4"/>
<circle cx="137.8" cy="813.7" r="8.6" fill="#8fd0eb" stroke="#111" stroke-width="3.4"/>
<circle cx="116.9" cy="795.3" r="10.4" fill="url(#gRd)" stroke="#111" stroke-width="3.4"/>
<ellipse cx="113.4" cy="790.3" rx="3" ry="2.2" fill="#fff" opacity="0.55"/>
<path d="M185.6,791.5 C185,777 172,766 156.5,765.2" fill="none" stroke="#111" stroke-width="2.8" stroke-linecap="round"/>
<path d="M164.1,758.6 L155.6,765.2 L163,774.6" fill="none" stroke="#111" stroke-width="2.8" stroke-linecap="round" stroke-linejoin="round"/>
<circle cx="181.5" cy="803" r="4.4" fill="#fff" stroke="#111" stroke-width="2.6"/>
<path d="M205,794.5 C205,772 228,749 258.5,748.9 L258.5,735.7 L288,759.7 L258.5,782.6 L258.5,771.9 C240,770 214,776 205,794.5 Z" fill="#4dbf6f" stroke="#111" stroke-width="3.6" stroke-linejoin="round"/>
<circle cx="498" cy="774.3" r="90.5" fill="#cde8f5"/>
<path d="M407,803.3 H590" stroke="#111" stroke-width="3" stroke-linecap="round"/>
<ellipse cx="553" cy="811.8" rx="28" ry="3.6" fill="url(#gSmudge)" opacity="0.8"/>
<ellipse cx="564" cy="819" rx="14" ry="3" fill="url(#gSmudge)" opacity="0.8"/>
<path d="M483.4,840 C483,837 484.5,836 486.9,835.9 C494,835.2 502,835.5 505.6,834.7 C508,833.5 507.5,830 509.1,828.8 C511,826.5 513,825.6 515,825.3 C520,824.4 525,824 529.1,824.1 C533,824.3 536.5,824.8 537.3,825.9 C538.5,827.5 538,829.8 539.6,830.6 C542,832 545,832.5 545.5,833.5 C547.5,835 547.5,838.5 543.1,840.5 C536,842.3 528,842.3 522,842.3 L486.9,842.3 C484.5,842.3 483.5,841.5 483.4,840 Z" fill="#f6d253" stroke="#111" stroke-width="3" stroke-linejoin="round"/>
<path d="M447,798 C447.5,805 449,811 453,816.5 C458,823 468,828.2 479.8,828.2 C491,828.2 501,823 506,816.5 C510.5,811 512.5,805 515,798 Z" fill="#f28c33" stroke="#111" stroke-width="3.2" stroke-linejoin="round"/>
<path d="M447,798 C446.5,795 449,792 455.2,789 C459,786.5 461,784 463.4,783.1 C466,781.6 468,781.2 470.5,781.4 C474,781.8 476,784.3 478.7,784.3 C481.5,784.3 483.5,783 485.7,782.5 C488,781.5 489,779.6 490.4,779.6 C492.5,779.4 494,779.8 495.1,780.2 C497.5,782 499,784 500.9,785.5 C504,788 506,789.5 508,791.3 C510.5,793 513,795 515,798 C503,804 460,804 447,798 Z" fill="#fafcfd" stroke="#111" stroke-width="3.2" stroke-linejoin="round"/>
<path d="M448.5,799 C460,804 500,804.5 513.5,799.5" fill="none" stroke="#111" stroke-width="3.2" stroke-linecap="round"/>
<path d="M408.5,712 L457,736.5" stroke="#111" stroke-width="9.8" stroke-linecap="round"/>
<path d="M408.5,712 L457,736.5" stroke="#c9cacb" stroke-width="3.8" stroke-linecap="round"/>
<path d="M456.6,739.5 C457.5,748 462,754.5 470,756.8 C477,758.5 485,757.5 489,754 C492,751 492,745.5 490,741.5 C488,736.5 484.5,731.5 480,730 C474,728.5 466.5,729.5 462.5,734.5 C460.5,736.5 458.5,738 456.6,739.5 Z" fill="#c9cacb" stroke="#111" stroke-width="3.2" stroke-linejoin="round"/>
<path d="M462.8,736.8 C464,731 471,729.3 478,729.8 C484,730.5 488.5,737 489.5,743 C490,746 489.5,748.5 489,750 C478,748.5 468,745 462.8,736.8 Z" fill="#fafcfd"/>
<path d="M462.5,737.5 C467,744 476,748 489.5,750.5" fill="none" stroke="#111" stroke-width="3" stroke-linecap="round"/>
<path d="M553,687 L505,735 C500,741 504,747.5 514,747.4 C522,747.3 531,744.5 537.2,740.9 L605.2,687 Z" fill="#f8ca8c"/>
<path d="M520,719.5 C525.5,718 530,722 529.5,727.5 C529,733.5 521,739.5 513,743 C507,745 502.5,743 502.5,739.5 C502.5,737.5 503.5,736.5 505,735 Z" fill="#f2a04a"/>
<path d="M520,719.5 C525.5,718 530,722 529.5,727.5 C529,733.5 521,739.5 513,743" fill="none" stroke="#111" stroke-width="3.2" stroke-linecap="round"/>
<path d="M553,686.4 L505,735 C500,741 504,747.5 514,747.4 C522,747.3 531,744.5 537.2,740.9 L605.2,686.4" fill="none" stroke="#111" stroke-width="3.3" stroke-linecap="round" stroke-linejoin="round"/>
<circle cx="477.5" cy="767.3" r="2.1" fill="#1a1a1a"/>
<circle cx="485.7" cy="763.8" r="2.1" fill="#1a1a1a"/>
<circle cx="484.3" cy="774.3" r="2.1" fill="#1a1a1a"/>
<path d="M494.3,795 C495,772 515,749 547.5,748.9 L547.5,737.7 L578,759.7 L547.5,783.1 L547.5,771.9 C525,769 505,776 494.3,795 Z" fill="#4dbf6f" stroke="#111" stroke-width="3.6" stroke-linejoin="round"/>
<circle cx="743.8" cy="722.5" r="7" fill="#8fd0eb" stroke="#111" stroke-width="3.1"/>
<circle cx="723.4" cy="745.3" r="7" fill="#8fd0eb" stroke="#111" stroke-width="3.1"/>
<circle cx="770.2" cy="718.2" r="7" fill="#8fd0eb" stroke="#111" stroke-width="3.1"/>
<circle cx="799.5" cy="726.6" r="7" fill="#8fd0eb" stroke="#111" stroke-width="3.1"/>
<circle cx="715.1" cy="769.8" r="7" fill="#8fd0eb" stroke="#111" stroke-width="3.1"/>
<circle cx="724.3" cy="799.5" r="7" fill="#8fd0eb" stroke="#111" stroke-width="3.1"/>
<circle cx="742" cy="819.9" r="7" fill="#8fd0eb" stroke="#111" stroke-width="3.1"/>
<circle cx="771.6" cy="827.3" r="7" fill="#8fd0eb" stroke="#111" stroke-width="3.1"/>
<circle cx="813.4" cy="794.8" r="7" fill="#8fd0eb" stroke="#111" stroke-width="3.1"/>
<circle cx="795.8" cy="819.9" r="7" fill="#8fd0eb" stroke="#111" stroke-width="3.1"/>
<circle cx="721.9" cy="723.4" r="10.5" fill="#f7d24a" stroke="#111" stroke-width="3.2"/>
<circle cx="789.3" cy="707.1" r="10.5" fill="#f7d24a" stroke="#111" stroke-width="3.2"/>
<circle cx="704.8" cy="789.3" r="10.5" fill="#f7d24a" stroke="#111" stroke-width="3.2"/>
<circle cx="753.1" cy="837.5" r="10.5" fill="#f7d24a" stroke="#111" stroke-width="3.2"/>
<circle cx="818" cy="816.6" r="10.5" fill="#f7d24a" stroke="#111" stroke-width="3.2"/>
<circle cx="751.6" cy="754.8" r="6.8" fill="#8c5a2b" stroke="#111" stroke-width="3"/>
<circle cx="770.3" cy="746.3" r="4.7" fill="#8c5a2b" stroke="#111" stroke-width="3"/>
<circle cx="740.2" cy="769" r="3.2" fill="#8c5a2b" stroke="#111" stroke-width="3"/>
<circle cx="788.2" cy="756.6" r="2.4" fill="#8c5a2b" stroke="#111" stroke-width="3"/>
<circle cx="770.6" cy="800.9" r="4.4" fill="#8c5a2b" stroke="#111" stroke-width="3"/>
<path d="M747.5,783.0 C747.7,780.8 747.9,777.1 749.0,775.0 C750.1,772.9 752.2,771.6 754.0,770.5 C755.8,769.4 758.3,769.5 760.0,768.3 C761.7,767.0 762.2,764.5 764.0,763.0 C765.8,761.5 768.5,760.0 771.0,759.5 C773.5,759.0 776.5,759.2 779.0,760.0 C781.5,760.8 784.3,762.5 786.0,764.5 C787.7,766.5 788.7,769.2 789.0,772.0 C789.3,774.8 789.0,778.5 788.0,781.0 C787.0,783.5 785.2,785.7 783.0,787.0 C780.8,788.3 777.3,788.6 775.0,789.0 C772.7,789.4 771.2,788.8 769.0,789.3 C766.8,789.8 764.7,791.6 762.0,792.0 C759.3,792.4 755.3,792.2 753.0,791.5 C750.7,790.8 748.9,789.4 748.0,788.0 C747.1,786.6 747.3,785.2 747.5,783.0 Z" fill="#8c5a2b" stroke="#111" stroke-width="3.2"/>
<circle cx="773.2" cy="768" r="1.5" fill="#5a3512"/>
<circle cx="757.8" cy="778.9" r="1.5" fill="#5a3512"/>
<path d="M774.2,780 C773.5,777 776,775.5 778.5,777" fill="none" stroke="#5a3512" stroke-width="1.8" stroke-linecap="round"/>
<path d="M789.3,794.5 C790,771 810,748.5 842.5,748.3 L842.5,736.6 L873,759.6 L842.5,782.5 L842.5,771.3 C820,768.5 800,776 789.3,794.5 Z" fill="#4dbf6f" stroke="#111" stroke-width="3.6" stroke-linejoin="round"/>
<g>
<text transform="translate(266.77 123.44) scale(0.8335 1)" font-size="44.00" letter-spacing="1.76" fill="#111" stroke="#111" stroke-width="0.53">HOW SOAP SCUM FORMS</text>
<text transform="translate(233.72 541.44) scale(0.8138 1)" font-size="44.00" letter-spacing="1.76" fill="#111" stroke="#111" stroke-width="0.53">HOW NATURAL INGREDIENTS</text>
<text transform="translate(357.52 588.64) scale(0.8135 1)" font-size="44.00" letter-spacing="1.76" fill="#111" stroke="#111" stroke-width="0.53">BREAK IT DOWN</text>
<text transform="translate(76.07 389.06) scale(0.8463 1)" font-size="24.01" letter-spacing="0.72" fill="#111" stroke="#111" stroke-width="0.48">TRADITIONAL BAR SOAP</text>
<text transform="translate(439.65 388.37) scale(0.8750 1)" font-size="23.16" letter-spacing="0.69" fill="#111" stroke="#111" stroke-width="0.46">HARD WATER</text>
<text transform="translate(694.51 389.06) scale(0.8588 1)" font-size="24.01" letter-spacing="0.72" fill="#111" stroke="#111" stroke-width="0.48">SOAP SCUM BUILDS UP</text>
<text transform="translate(91.95 415.03) scale(0.8961 1)" font-size="16.67" letter-spacing="0.50" fill="#111" stroke="#111" stroke-width="0.33">FATTY ACIDS IN A BAR SOAP,</text>
<text transform="translate(104.80 435.83) scale(0.8857 1)" font-size="16.95" letter-spacing="0.51" fill="#111" stroke="#111" stroke-width="0.34">(E.G., SODIUM STEARATE)</text>
<text transform="translate(402.92 414.03) scale(0.8965 1)" font-size="17.23" letter-spacing="0.52" fill="#111" stroke="#111" stroke-width="0.34">CALCIUM AND MAGNESIUM</text>
<text transform="translate(439.92 435.53) scale(0.9369 1)" font-size="16.53" letter-spacing="0.50" fill="#111" stroke="#111" stroke-width="0.33">MAGNESIUM IONS</text>
<text transform="translate(706.14 414.43) scale(0.8606 1)" font-size="17.09" letter-spacing="0.51" fill="#111" stroke="#111" stroke-width="0.34">CHALKY, GRIMY GLASS FILM,</text>
<text transform="translate(727.14 435.83) scale(0.8848 1)" font-size="17.09" letter-spacing="0.51" fill="#111" stroke="#111" stroke-width="0.34">INSOLUBLE LIME SOAP</text>
<text transform="translate(678.19 457.43) scale(0.8941 1)" font-size="17.09" letter-spacing="0.51" fill="#111" stroke="#111" stroke-width="0.34">(CALCIUM/MAGNESIUM STEARATE)</text>
<text transform="translate(124.95 661.57) scale(0.8591 1)" font-size="24.48" letter-spacing="0.37" fill="#111" stroke="#111" stroke-width="0.86">WHITE VINEGAR</text>
<text transform="translate(436.77 661.47) scale(0.8400 1)" font-size="24.76" letter-spacing="0.37" fill="#111" stroke="#111" stroke-width="0.87">BAKING SODA</text>
<text transform="translate(718.55 661.47) scale(0.8579 1)" font-size="24.76" letter-spacing="0.37" fill="#111" stroke="#111" stroke-width="0.87">LIQUID DISH SOAP</text>
<text transform="translate(153.27 894.08) scale(0.8220 1)" font-size="21.61" letter-spacing="0.65" fill="#111" stroke="#111" stroke-width="0.43">SOAP SCUM</text>
<text transform="translate(442.78 894.08) scale(0.7735 1)" font-size="21.61" letter-spacing="0.65" fill="#111" stroke="#111" stroke-width="0.43">TOUGH STAINS</text>
<text transform="translate(799.07 894.08) scale(0.8079 1)" font-size="21.61" letter-spacing="0.65" fill="#111" stroke="#111" stroke-width="0.43">SOAP</text>
<text transform="translate(94.96 928.91) scale(0.8306 1)" font-size="19.35" letter-spacing="0.58" fill="#111" stroke="#111" stroke-width="0.39">ACETIC ACID REACTS WITH</text>
<text transform="translate(115.00 951.71) scale(0.8359 1)" font-size="19.35" letter-spacing="0.58" fill="#111" stroke="#111" stroke-width="0.39">CALCIUM CARBONATE</text>
<text transform="translate(408.00 928.91) scale(0.8349 1)" font-size="19.35" letter-spacing="0.58" fill="#111" stroke="#111" stroke-width="0.39">SCRUBS AWAY BUILDUP</text>
<text transform="translate(730.69 928.91) scale(0.8303 1)" font-size="19.35" letter-spacing="0.58" fill="#111" stroke="#111" stroke-width="0.39">BREAKS DOWN FATTY</text>
<text transform="translate(767.60 951.71) scale(0.8248 1)" font-size="19.35" letter-spacing="0.58" fill="#111" stroke="#111" stroke-width="0.39">SUBSTANCES</text>
<text transform="translate(294.44 748.22) scale(0.8655 1)" font-size="17.51" letter-spacing="0.53" fill="#111" stroke="#111" stroke-width="0.35">DISSOLVES</text>
<text transform="translate(294.38 770.12) scale(0.9206 1)" font-size="17.66" letter-spacing="0.53" fill="#111" stroke="#111" stroke-width="0.35">MINERAL</text>
<text transform="translate(294.42 791.14) scale(0.9389 1)" font-size="16.38" letter-spacing="0.49" fill="#111" stroke="#111" stroke-width="0.33">DEPOSITS</text>
<text transform="translate(583.24 756.83) scale(0.8539 1)" font-size="17.37" letter-spacing="0.52" fill="#111" stroke="#111" stroke-width="0.35">GENTLE</text>
<text transform="translate(583.47 778.82) scale(0.8628 1)" font-size="17.51" letter-spacing="0.53" fill="#111" stroke="#111" stroke-width="0.35">ABRASIVE</text>
<text transform="translate(881.57 750.84) scale(0.9057 1)" font-size="16.10" letter-spacing="0.48" fill="#111" stroke="#111" stroke-width="0.32">LIFTS</text>
<text transform="translate(881.95 772.23) scale(0.8741 1)" font-size="16.53" letter-spacing="0.50" fill="#111" stroke="#111" stroke-width="0.33">GREASE</text>
<text transform="translate(881.88 794.13) scale(0.9133 1)" font-size="16.67" letter-spacing="0.50" fill="#111" stroke="#111" stroke-width="0.33">&amp; GRIME</text>
</g>
</svg>
</body></html>
